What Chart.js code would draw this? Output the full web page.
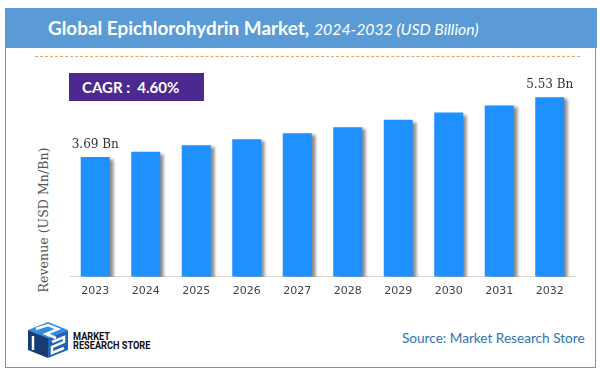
<!DOCTYPE html>
<html>
<head>
<meta charset="utf-8">
<script src="https://cdn.jsdelivr.net/npm/chart.js@4.4.1/dist/chart.umd.min.js"></script>
<style>
  body { margin: 0; background: #fff; }
  #wrap { position: relative; width: 600px; height: 377px; overflow: hidden; font-family: Lato, sans-serif; }
  #frame { position: absolute; left: 5px; top: 8px; width: 591px; height: 360px; border: 1px solid #5b9bd5; box-sizing: border-box; }
  #band { position: absolute; left: 5px; top: 8px; width: 592px; height: 40px; background: #5b9bd5; color: #fff;
          line-height: 40px; font-size: 18.9px; padding-left: 43px; box-sizing: border-box; white-space: nowrap; }
  #band b { font-weight: 700; }
  #band i { font-weight: 400; font-size: 15.8px; }
  #dash { position: absolute; left: 35px; top: 56px; width: 545px; height: 0; border-top: 1px dashed #f4a15d; }
  #cagr { position: absolute; left: 69px; top: 73px; width: 135px; height: 28px; background: #4b2991; color: #fff;
          font-weight: 700; font-size: 15px; line-height: 28px; padding-left: 13px; box-sizing: border-box; }
  #ytitle { position: absolute; left: 43px; top: 220px; transform: translate(-50%, -50%) rotate(-90deg);
            white-space: nowrap; font-family: "DejaVu Serif", serif; font-size: 12.6px; color: #555; }
  #source { position: absolute; left: 402px; top: 330px; font-size: 13.6px; color: #2e74b5; }
  #logo { position: absolute; left: 24px; top: 320px; }
  #logotext { position: absolute; left: 73px; top: 332px; font-family: Roboto, sans-serif; font-weight: 700;
              font-size: 10px; line-height: 9px; color: #111; transform-origin: left top; transform: scaleX(0.92); }
  canvas { position: absolute; left: 0; top: 0; }
</style>
</head>
<body>
<div id="wrap">
  <div id="frame"></div>
  <div id="band"><b>Global Epichlorohydrin Market,</b> <i>2024-2032 (USD Billion)</i></div>
  <div id="dash"></div>
  <div id="cagr">CAGR :&nbsp; 4.60%</div>
  <div id="ytitle">Revenue (USD Mn/Bn)</div>
  <svg id="logo" width="48" height="40" viewBox="0 0 48 40">
    <polygon points="24,2 44,10 24,18 4,10" fill="#2f8ee0"/>
    <polygon points="4,10 24,18 24,38 4,30" fill="#163d73"/>
    <polygon points="24,18 44,10 44,30 24,38" fill="#1f64b3"/>
    <polyline points="12,9 24,5 34,9 22,14 32,18" fill="none" stroke="#fff" stroke-width="2.5"/>
    <polyline points="28,22 40,17 40,22 28,27 28,33 40,28" fill="none" stroke="#fff" stroke-width="2.5"/>
    <polyline points="9,16 9,30 M9,16 18,20 9,23 18,32" fill="none" stroke="#fff" stroke-width="2.5"/>
  </svg>
  <div id="logotext">MARKET<br>RESEARCH STORE</div>
  <div id="source">Source: Market Research Store</div>
  <canvas id="chart" width="600" height="377"></canvas>
</div>
<script>
const years = ['2023', '2024', '2025', '2026', '2027', '2028', '2029', '2030', '2031', '2032'];
const revenue = [3.69, 3.85, 4.05, 4.24, 4.42, 4.61, 4.84, 5.06, 5.28, 5.53];
const labelled = ['3.69 Bn', '', '', '', '', '', '', '', '', '5.53 Bn'];

// grey shadow on the right of each bar
const barShadow = {
    id: 'barShadow',
    beforeDatasetsDraw(chart) {
        const ctx = chart.ctx;
        ctx.save();
        ctx.shadowColor = 'rgba(0,0,0,0.45)';
        ctx.shadowBlur = 3;
        ctx.shadowOffsetX = 4;
        ctx.shadowOffsetY = 2;
    },
    afterDatasetsDraw(chart) {
        chart.ctx.restore();
    }
};

const endLabels = {
    id: 'endLabels',
    afterDatasetsDraw(chart) {
        const ctx = chart.ctx;
        const meta = chart.getDatasetMeta(0);
        ctx.save();
        ctx.font = '12px "DejaVu Serif", serif';
        ctx.fillStyle = '#333';
        ctx.textAlign = 'center';
        ctx.textBaseline = 'bottom';
        meta.data.forEach((bar, i) => {
            if (labelled[i]) ctx.fillText(labelled[i], bar.x, bar.y - 6);
        });
        ctx.restore();
    }
};

new Chart(document.getElementById('chart'), {
    type: 'bar',
    data: {
        labels: years,
        datasets: [{
            data: revenue,
            backgroundColor: '#1e90ff',
            borderWidth: 0,
            barPercentage: 0.575,
            categoryPercentage: 1
        }]
    },
    options: {
        responsive: false,
        animation: false,
        layout: { padding: { left: 70, right: 25, top: 82, bottom: 79 } },
        plugins: {
            legend: { display: false },
            tooltip: { enabled: false }
        },
        scales: {
            x: {
                grid: { display: false },
                border: { display: true, color: '#d9d9d9', width: 1 },
                ticks: { padding: 0, color: '#444', font: { family: 'DejaVu Sans', size: 11 } }
            },
            y: {
                display: false,
                min: 0,
                max: 6
            }
        }
    },
    plugins: [barShadow, endLabels]
});
</script>
</body>
</html>
